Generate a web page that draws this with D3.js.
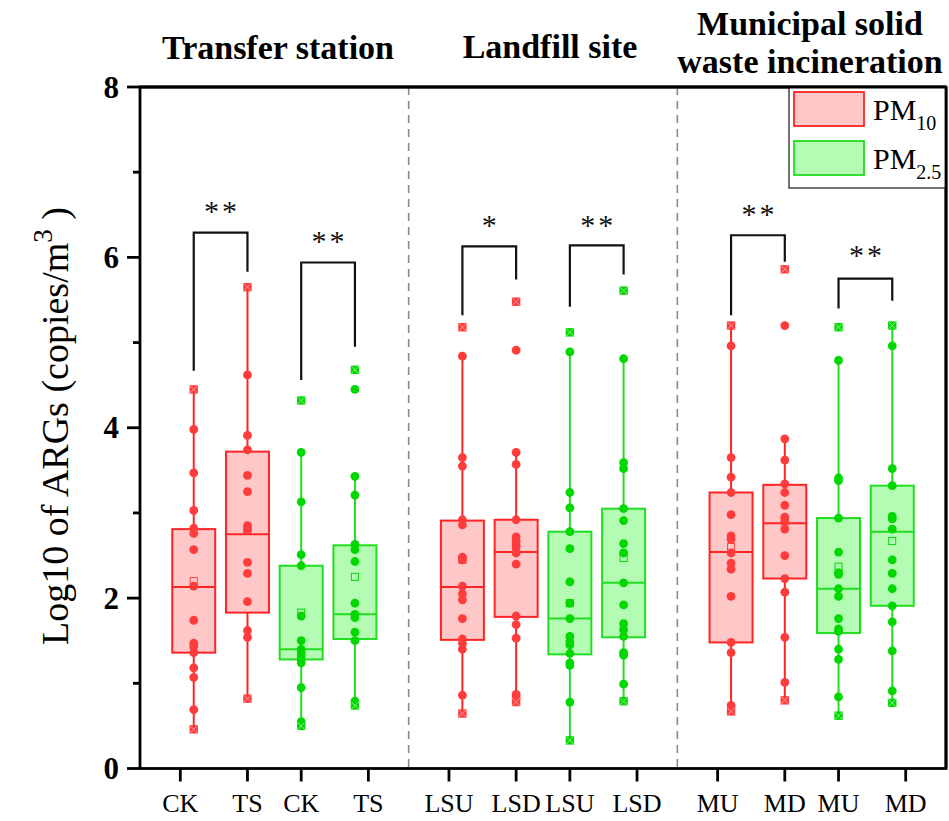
<!DOCTYPE html>
<html><head><meta charset="utf-8">
<script src="https://cdn.jsdelivr.net/npm/d3@7"></script>
<style>body{margin:0;background:#fff}svg{display:block}</style>
</head><body>
<script>
// ---------- data ----------
const groupTitles = [["Transfer station"], ["Landfill site"], ["Municipal solid", "waste incineration"]];
const boxLabels = ["CK","TS","CK","TS","LSU","LSD","LSU","LSD","MU","MD","MU","MD"];
const boxSeries = ["PM10","PM10","PM2.5","PM2.5","PM10","PM10","PM2.5","PM2.5","PM10","PM10","PM2.5","PM2.5"];
const boxPos = [1,2,3,4,6,7,8,9,11,12,13,14];
const tickPos = [0.75,2,3,4.25,5.75,7,8,9.25,10.75,12,13,14.25];
const yTicks = [0,2,4,6,8];
const yMinorTicks = [1,3,5,7];
const separators = [5,10];

const q1     = [1.36,1.83,1.28,1.52,1.51,1.78,1.34,1.54,1.48,2.23,1.59,1.91];
const median = [2.13,2.75,1.40,1.81,2.13,2.54,1.76,2.18,2.54,2.88,2.11,2.78];
const q3     = [2.81,3.72,2.38,2.62,2.91,2.92,2.78,3.05,3.24,3.33,2.94,3.32];
const mean   = [2.20,2.80,1.83,2.25,2.45,2.61,1.94,2.47,2.60,2.90,2.37,2.67];
const whiskerLow  = [0.46,0.82,0.50,0.74,0.645,0.78,0.33,0.79,0.67,0.80,0.62,0.77];
const whiskerHigh = [4.45,5.65,3.71,3.43,4.84,3.71,4.89,4.81,5.20,3.87,4.79,5.20];

const pointsCK10  = [4.45,3.98,3.47,3.03,2.82,2.76,2.57,2.14,1.74,1.47,1.43,1.36,1.18,1.07,0.69,0.46];
const pointsTS10  = [5.65,4.62,3.91,3.74,3.44,3.25,2.85,2.80,2.42,2.29,1.96,1.62,1.54,0.82];
const pointsCK25  = [4.32,3.71,3.13,2.51,2.38,1.79,1.50,1.40,1.36,1.32,1.28,1.24,0.95,0.55,0.50];
const pointsTS25  = [4.68,4.45,3.43,3.21,2.63,2.57,2.43,1.94,1.81,1.77,1.60,1.50,0.79,0.74];
const pointsLSU10 = [5.18,4.84,3.65,3.55,2.92,2.86,2.48,2.45,2.14,2.05,1.98,1.76,1.52,1.47,1.40,0.86,0.645];
const pointsLSD10 = [5.48,4.91,3.71,3.57,2.92,2.72,2.67,2.61,2.53,2.40,1.79,1.69,1.53,0.87,0.83,0.78];
const pointsLSU25 = [5.12,4.89,3.24,3.06,2.78,2.58,2.19,1.94,1.76,1.55,1.49,1.45,1.35,1.24,1.21,0.78,0.33];
const pointsLSD25 = [5.61,4.81,3.59,3.52,3.05,2.91,2.64,2.53,2.18,1.92,1.70,1.63,1.55,1.36,1.33,0.99,0.79];
const pointsMU10  = [5.20,4.96,3.65,3.42,3.24,2.98,2.73,2.69,2.53,2.41,2.34,2.02,1.48,1.36,0.74,0.67];
const pointsMD10  = [5.86,5.20,3.87,3.62,3.34,3.24,3.09,2.95,2.90,2.81,2.50,2.23,2.07,1.54,1.01,0.80];
const pointsMU25  = [5.18,4.79,3.41,3.38,2.94,2.54,2.30,2.28,2.11,2.02,1.76,1.64,1.61,1.40,1.28,0.84,0.62];
const pointsMD25  = [5.20,4.96,3.52,3.32,2.96,2.93,2.81,2.45,2.29,2.11,1.91,1.72,1.38,0.91,0.77];
const boxPoints = [pointsCK10,pointsTS10,pointsCK25,pointsTS25,pointsLSU10,pointsLSD10,pointsLSU25,pointsLSD25,pointsMU10,pointsMD10,pointsMU25,pointsMD25];

const bracketLeft   = [1,3,6,8,11,13];
const bracketRight  = [2,4,7,9,12,14];
const bracketTop    = [6.29,5.94,6.13,6.14,6.26,5.75];
const bracketLeftEnd  = [4.67,4.56,5.32,5.42,5.32,5.40];
const bracketRightEnd = [5.83,4.95,5.74,5.80,5.95,5.49];
const bracketLabel  = ["**","**","*","**","**","**"];
const bracketLabelY = [6.59,6.24,6.43,6.43,6.56,6.07];

const legendSeries = ["PM10","PM2.5"];
const legendMain = ["PM","PM"];
const legendSub = ["10","2.5"];

// ---------- styles ----------
const W = 949, H = 821;
const serif = "'Liberation Serif','Times New Roman',serif";
const col = {
  "PM10":  {stroke:"#ff2424", fill:"#ffc8c8", point:"#ff3b3b", light:"#ff9a9a"},
  "PM2.5": {stroke:"#22dd22", fill:"#b4fcb4", point:"#00d800", light:"#8af08a"}
};

const svg = d3.select("body").append("svg").attr("width", W).attr("height", H);
const x = d3.scaleLinear().domain([0,15]).range([140,946]);
const y = d3.scaleLinear().domain([0,8]).range([768.5,87]);

// separators
svg.selectAll(".sep").data(separators).join("line")
  .attr("x1", d=>x(d)).attr("x2", d=>x(d)).attr("y1", y(8)).attr("y2", y(0))
  .attr("stroke","#8a8a8a").attr("stroke-width",1.6).attr("stroke-dasharray","8,6");

// boxes
const bw = 0.8;
boxPos.forEach((p,i)=>{
  const c = col[boxSeries[i]];
  const g = svg.append("g");
  const cx = x(p);
  g.append("line").attr("x1",cx).attr("x2",cx).attr("y1",y(whiskerHigh[i])).attr("y2",y(q3[i]))
    .attr("stroke",c.stroke).attr("stroke-width",2);
  g.append("line").attr("x1",cx).attr("x2",cx).attr("y1",y(q1[i])).attr("y2",y(whiskerLow[i]))
    .attr("stroke",c.stroke).attr("stroke-width",2);
  g.append("rect").attr("x",x(p-bw/2)).attr("width",x(p+bw/2)-x(p-bw/2))
    .attr("y",y(q3[i])).attr("height",y(q1[i])-y(q3[i]))
    .attr("fill",c.fill).attr("stroke",c.stroke).attr("stroke-width",2);
  g.append("line").attr("x1",x(p-bw/2)).attr("x2",x(p+bw/2)).attr("y1",y(median[i])).attr("y2",y(median[i]))
    .attr("stroke",c.stroke).attr("stroke-width",2);
  g.append("rect").attr("x",cx-3.5).attr("y",y(mean[i])-3.5).attr("width",7).attr("height",7)
    .attr("fill","none").attr("stroke",c.point).attr("stroke-width",1);
  const pts = boxPoints[i];
  const mx = d3.max(pts), mn = d3.min(pts);
  pts.forEach(v=>{
    if (v===mx || v===mn) {
      g.append("rect").attr("x",cx-4.2).attr("y",y(v)-4.2).attr("width",8.4).attr("height",8.4)
        .attr("fill",c.point);
      g.append("path").attr("d",`M${cx-4},${y(v)-4}L${cx+4},${y(v)+4}M${cx-4},${y(v)+4}L${cx+4},${y(v)-4}`)
        .attr("stroke",c.light).attr("stroke-width",1);
    } else {
      g.append("circle").attr("cx",cx).attr("cy",y(v)).attr("r",4.4).attr("fill",c.point);
    }
  });
});

// brackets
bracketLeft.forEach((l,i)=>{
  const r = bracketRight[i];
  svg.append("path")
    .attr("d",`M${x(l)},${y(bracketLeftEnd[i])}V${y(bracketTop[i])}H${x(r)}V${y(bracketRightEnd[i])}`)
    .attr("fill","none").attr("stroke","#111").attr("stroke-width",2.2);
  svg.append("text").attr("x",(x(l)+x(r))/2 + 1.5).attr("y",y(bracketLabelY[i])+14)
    .attr("text-anchor","middle").attr("font-family",serif).attr("font-size",30)
    .attr("letter-spacing",3).attr("fill","#111").text(bracketLabel[i]);
});

// frame
svg.append("rect").attr("x",x(0)).attr("y",y(8)).attr("width",x(15)-x(0)).attr("height",y(0)-y(8))
  .attr("fill","none").attr("stroke","#000").attr("stroke-width",2.8);

// y axis ticks
svg.selectAll(".yt").data(yTicks).join("line")
  .attr("x1",x(0)-13).attr("x2",x(0)).attr("y1",d=>y(d)).attr("y2",d=>y(d))
  .attr("stroke","#000").attr("stroke-width",2.8);
svg.selectAll(".ym").data(yMinorTicks).join("line")
  .attr("x1",x(0)-7).attr("x2",x(0)).attr("y1",d=>y(d)).attr("y2",d=>y(d))
  .attr("stroke","#000").attr("stroke-width",2.8);
svg.selectAll(".yl").data(yTicks).join("text")
  .attr("x",119).attr("y",d=>y(d)+10.5).attr("text-anchor","end")
  .attr("font-family",serif).attr("font-weight","bold").attr("font-size",31).text(d=>d);

// x axis ticks
svg.selectAll(".xt").data(tickPos).join("line")
  .attr("x1",d=>x(d)).attr("x2",d=>x(d)).attr("y1",y(0)).attr("y2",y(0)+13)
  .attr("stroke","#000").attr("stroke-width",2.8);
svg.selectAll(".xl").data(tickPos).join("text")
  .attr("x",d=>x(d)).attr("y",812).attr("text-anchor","middle")
  .attr("font-family",serif).attr("font-size",26).text((d,i)=>boxLabels[i]);

// y label
const yl = svg.append("text").attr("transform","translate(68,426) rotate(-90)")
  .attr("text-anchor","middle").attr("font-family",serif).attr("font-size",38);
yl.append("tspan").text("Log10 of ARGs (copies/m");
yl.append("tspan").attr("font-size",27).attr("dy",-16).text("3");
yl.append("tspan").attr("dy",16).text(" )");

// group titles
const titleX = [278, 550, 810];
const titleY = [[59],[58],[35,73]];
groupTitles.forEach((lines,i)=>{
  lines.forEach((t,j)=>{
    svg.append("text").attr("x",titleX[i]).attr("y",titleY[i][j]).attr("text-anchor","middle")
      .attr("font-family",serif).attr("font-weight","bold").attr("font-size",34).text(t);
  });
});

// legend
const lg = svg.append("g");
lg.append("rect").attr("x",789).attr("y",y(8)).attr("width",x(15)-789).attr("height",101)
  .attr("fill","#fff").attr("stroke","#444").attr("stroke-width",1.5);
legendSeries.forEach((s,i)=>{
  const c = col[s];
  const top = 92 + i*49;
  lg.append("rect").attr("x",794).attr("y",top).attr("width",70).attr("height",34)
    .attr("fill",c.fill).attr("stroke",c.stroke).attr("stroke-width",1.8);
  const t = lg.append("text").attr("x",873).attr("y",top+27.5)
    .attr("font-family",serif).attr("font-size",30);
  t.append("tspan").text(legendMain[i]);
  t.append("tspan").attr("font-size",20).attr("dy",10.5).text(legendSub[i]);
});
svg.append("line").attr("x1",x(15)).attr("x2",x(15)).attr("y1",y(8)).attr("y2",y(0))
  .attr("stroke","#000").attr("stroke-width",2.8);
svg.append("line").attr("x1",x(0)).attr("x2",x(15)).attr("y1",y(8)).attr("y2",y(8))
  .attr("stroke","#000").attr("stroke-width",2.8);
</script>
</body></html>
